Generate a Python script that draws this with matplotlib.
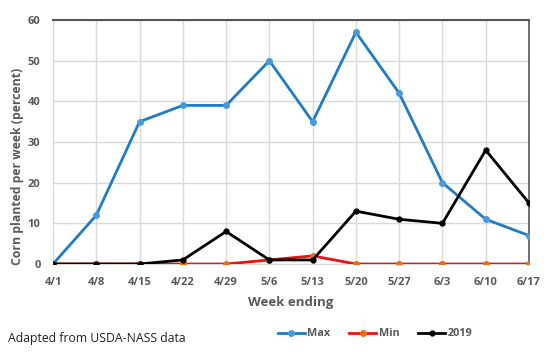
import matplotlib
matplotlib.use("Agg")
import matplotlib.pyplot as plt
from matplotlib.lines import Line2D

plt.rcParams['font.family'] = ['Open Sans', 'DejaVu Sans']

# data
weeks = ["4/1", "4/8", "4/15", "4/22", "4/29", "5/6", "5/13", "5/20", "5/27", "6/3", "6/10", "6/17"]
max_vals = [0, 12, 35, 39, 39, 50, 35, 57, 42, 20, 11, 7]
min_vals = [0, 0, 0, 0, 0, 1, 2, 0, 0, 0, 0, 0]
y2019 = [0, 0, 0, 1, 8, 1, 1, 13, 11, 10, 28, 15]

gray = "#595959"
fig = plt.figure(figsize=(5.5, 3.56), dpi=100)
ax = fig.add_axes([0.0964, 0.2584, 0.8654, 0.6854])

x = list(range(len(weeks)))
ax.plot(x, max_vals, color="#1f7bc6", lw=2, marker="o", ms=4, mfc="#4a9ad8", mec="#4a9ad8", zorder=3)
ax.plot(x, min_vals, color="#ee1111", lw=2, marker="o", ms=4, mfc="#f06a1a", mec="#f06a1a", zorder=4)
ax.plot(x, y2019, color="black", lw=2, marker="o", ms=3.5, zorder=5)

ax.set_xlim(0, len(weeks) - 1)
ax.set_ylim(0, 60)
ax.set_xticks(x)
ax.set_xticklabels(weeks)
ax.set_yticks(range(0, 61, 10))
ax.grid(True, color="#d9d9d9", lw=1)
ax.set_axisbelow(True)
ax.tick_params(length=0, pad=9, labelsize=8, labelcolor=gray)
for lab in ax.get_xticklabels() + ax.get_yticklabels():
    lab.set_fontweight("bold")
ax.spines["top"].set_color("#555555")
ax.spines["right"].set_color("#555555")
ax.spines["top"].set_linewidth(1.5)
ax.spines["right"].set_linewidth(1.2)
ax.spines["left"].set_color("#d9d9d9")
ax.spines["bottom"].set_color("#d9d9d9")

ax.set_xlabel("Week ending", fontsize=9.5, fontweight="bold", color=gray, labelpad=6)
ax.set_ylabel("Corn planted per week (percent)", fontsize=8.8, fontweight="bold", color=gray)
ax.yaxis.set_label_coords(-0.06, 0.40)

handles = [
    Line2D([], [], color="#1f7bc6", lw=2, marker="o", ms=4, mfc="#4a9ad8", mec="#4a9ad8"),
    Line2D([], [], color="#ee1111", lw=2, marker="o", ms=4, mfc="#f06a1a", mec="#f06a1a"),
    Line2D([], [], color="black", lw=2, marker="o", ms=3.5),
]
leg = fig.legend(handles, ["Max", "Min", "2019"], loc="center", bbox_to_anchor=(0.682, 0.062),
                 ncol=3, frameon=False, fontsize=7.8, handlelength=2.5, columnspacing=1.7, handletextpad=0.25)
for t in leg.get_texts():
    t.set_color(gray)
    t.set_fontweight("bold")

fig.text(0.015, 0.05, "Adapted from USDA-NASS data", fontsize=8.8, color="#222222", va="center")

fig.savefig("out.png", dpi=100)
